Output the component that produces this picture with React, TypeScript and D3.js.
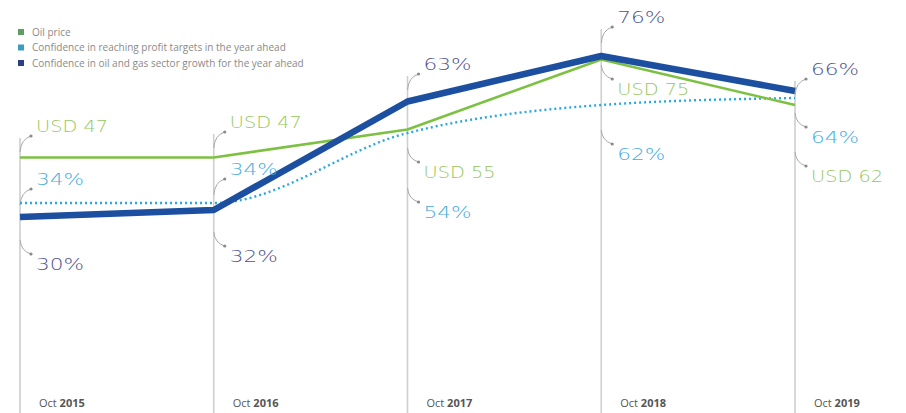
import React from "react";
import * as d3 from "d3";

const years = ["2015", "2016", "2017", "2018", "2019"];
const oilPrice = [47, 47, 55, 75, 62];
const profitConfidence = [34, 34, 54, 62, 64];
const sectorConfidence = [30, 32, 63, 76, 66];
const legendLabels = [
  "Oil price",
  "Confidence in reaching profit targets in the year ahead",
  "Confidence in oil and gas sector growth for the year ahead",
];

// annotation layout: label centre y offset per series/year (layout only)
type Ann = { series: number; year: number; text: string; cy: number; above: boolean };

const W = 906;
const H = 413;
const COLORS = {
  oil: "#7dc142",
  profit: "#2aa8e0",
  sector: "#1c4f9f",
};
const LABEL_COLORS = ["#96c75e", "#45ade2", "#4d5395"];
const LEGEND_COLORS = ["#5f9e62", "#3a9ec4", "#2c3f80"];

export default function App() {
  const x = d3.scalePoint<string>().domain(years).range([20, 795]);
  const y = d3.scaleLinear().domain([0, 80]).range([322, 42]);

  const lineLinear = d3
    .line<number>()
    .x((_, i) => x(years[i]) as number)
    .y((d) => y(d));
  const lineCurve = d3
    .line<number>()
    .x((_, i) => x(years[i]) as number)
    .y((d) => y(d))
    .curve(d3.curveMonotoneX);

  const fmtUsd = (v: number) => `USD ${v}`;
  const fmtPct = (v: number) => `${v}%`;

  // label vertical centres (layout), per year
  const anns: Ann[] = [
    { series: 0, year: 0, text: fmtUsd(oilPrice[0]), cy: 127, above: true },
    { series: 1, year: 0, text: fmtPct(profitConfidence[0]), cy: 180, above: true },
    { series: 2, year: 0, text: fmtPct(sectorConfidence[0]), cy: 265, above: false },
    { series: 0, year: 1, text: fmtUsd(oilPrice[1]), cy: 123, above: true },
    { series: 1, year: 1, text: fmtPct(profitConfidence[1]), cy: 170, above: true },
    { series: 2, year: 1, text: fmtPct(sectorConfidence[1]), cy: 257, above: false },
    { series: 2, year: 2, text: fmtPct(sectorConfidence[2]), cy: 65, above: true },
    { series: 0, year: 2, text: fmtUsd(oilPrice[2]), cy: 173, above: false },
    { series: 1, year: 2, text: fmtPct(profitConfidence[2]), cy: 213, above: false },
    { series: 2, year: 3, text: fmtPct(sectorConfidence[3]), cy: 18, above: true },
    { series: 0, year: 3, text: fmtUsd(oilPrice[3]), cy: 90, above: false },
    { series: 1, year: 3, text: fmtPct(profitConfidence[3]), cy: 155, above: false },
    { series: 2, year: 4, text: fmtPct(sectorConfidence[4]), cy: 70, above: true },
    { series: 1, year: 4, text: fmtPct(profitConfidence[4]), cy: 138, above: false },
    { series: 0, year: 4, text: fmtUsd(oilPrice[4]), cy: 177, above: false },
  ];

  const leaders = anns.map((a) => {
    const x0 = x(years[a.year]) as number;
    const dotY = a.above ? a.cy + 9 : a.cy - 11;
    const startY = a.above ? dotY + 16 : dotY - 14;
    return { ...a, x0, dotY, startY };
  });

  const lineTops = years.map((yr, i) => {
    const ys = leaders.filter((l) => l.year === i).map((l) => Math.min(l.startY, l.dotY));
    return d3.min(ys) as number;
  });

  return (
    <svg
      width={W}
      height={H}
      style={{ position: "absolute", left: 0, top: 0, background: "#fff" }}
      fontFamily="'Open Sans', sans-serif"
    >
      {/* vertical year lines */}
      {years.map((yr, i) => (
        <line
          key={"v" + yr}
          x1={x(yr)}
          x2={x(yr)}
          y1={lineTops[i] + 2}
          y2={H}
          stroke="#cfcfcf"
          strokeWidth={1.6}
        />
      ))}

      {/* leaders */}
      {leaders.map((l, i) => (
        <g key={"ld" + i}>
          <path
            d={`M${l.x0},${l.startY} Q${l.x0 + 1},${l.dotY + (l.above ? 3 : -3)} ${l.x0 + 11},${l.dotY}`}
            fill="none"
            stroke="#a9a9a9"
            strokeWidth={1}
          />
          <circle cx={l.x0 + 11} cy={l.dotY} r={1.6} fill="#8a8a8a" />
        </g>
      ))}

      {/* series lines */}
      <path
        d={lineCurve(profitConfidence) as string}
        fill="none"
        stroke={COLORS.profit}
        strokeWidth={2.4}
        strokeDasharray="2 3"
      />
      <path
        d={lineLinear(oilPrice) as string}
        fill="none"
        stroke={COLORS.oil}
        strokeWidth={2.6}
        strokeLinejoin="round"
      />
      <path
        d={lineLinear(sectorConfidence) as string}
        fill="none"
        stroke={COLORS.sector}
        strokeWidth={6.5}
        strokeLinejoin="round"
      />

      {/* value labels */}
      {leaders.map((l, i) => (
        <text
          key={"lb" + i}
          x={l.x0 + 16}
          y={l.cy}
          dy="0.36em"
          fontSize={15}
          fontWeight={300}
          fill={LABEL_COLORS[l.series]}
          textLength={l.series === 0 ? 72 : 48}
          lengthAdjust="spacingAndGlyphs"
          fontFamily="'DejaVu Sans', sans-serif"
        >
          {l.text}
        </text>
      ))}

      {/* legend */}
      {legendLabels.map((lab, i) => (
        <g key={"lg" + i} transform={`translate(18,${32 + i * 15.5})`}>
          <rect x={0} y={-3} width={6} height={6} fill={LEGEND_COLORS[i]} />
          <text x={14} y={0} dy="0.35em" fontSize={10} fill="#8a8a8a">
            {lab}
          </text>
        </g>
      ))}

      {/* bottom year labels */}
      {years.map((yr) => (
        <text
          key={"t" + yr}
          x={(x(yr) as number) + 19}
          y={407}
          fontSize={11}
          fill="#555"
        >
          <tspan>Oct </tspan>
          <tspan fontWeight={700}>{yr}</tspan>
        </text>
      ))}
    </svg>
  );
}
